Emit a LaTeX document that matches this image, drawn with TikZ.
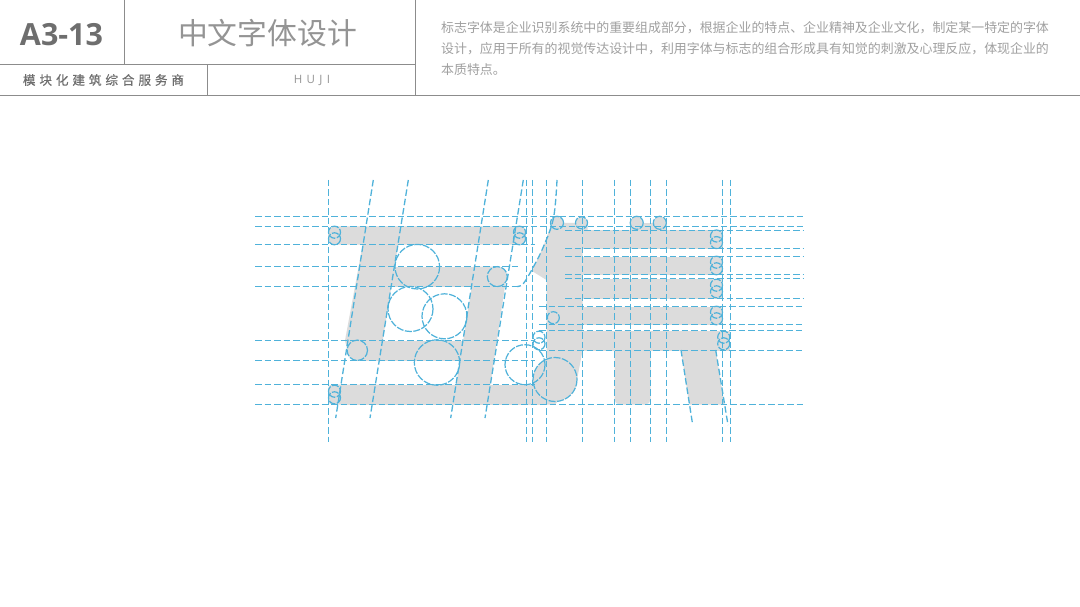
\documentclass[tikz,border=0pt]{standalone}
\usepackage{fontspec}
\setmainfont{Open Sans}
\newfontfamily\cjk{Noto Sans CJK SC}
\newfontfamily\cjkwide[LetterSpace=31,FakeBold=0.4]{Noto Sans CJK SC}
\newfontfamily\latwide[LetterSpace=38]{Open Sans}
\newcommand{\fwc}{\symbol{"FF0C}}
\definecolor{glyphgray}{HTML}{DCDCDC}
\definecolor{guide}{HTML}{4FB2DA}
\definecolor{rulegray}{HTML}{8C8C8C}
\definecolor{textdark}{HTML}{6E6E6E}
\definecolor{textlight}{HTML}{949494}
\definecolor{textpale}{HTML}{A0A0A0}
\tikzset{
  glyph/.style={fill=glyphgray,draw=none},
  guideline/.style={draw=guide,line width=1.3pt,dash pattern=on 6.5pt off 3pt},
  guidearc/.style={draw=guide,line width=1.2pt,dash pattern=on 7pt off 1.5pt},
  headrule/.style={draw=rulegray,line width=1.2pt}
}
\newcommand{\stadV}[2]{% vertical pair of small circles centred at (#1,#2)
  \draw[guidearc] (#1,#2-3.3) circle[radius=6];
  \draw[guidearc] (#1,#2+3.3) circle[radius=6];
}
\begin{document}
\begin{tikzpicture}[x=1pt,y=-1pt]
\useasboundingbox (0,0) rectangle (1080,607);
\fill[white] (0,0) rectangle (1080,607);
% header rules
\draw[headrule] (0,95.5) -- (1080,95.5);
\draw[headrule] (0,64.5) -- (415.5,64.5);
\draw[headrule] (124.5,0) -- (124.5,64.5);
\draw[headrule] (207.5,64.5) -- (207.5,95.5);
\draw[headrule] (415.5,0) -- (415.5,95.5);
% header texts
\node[text=textdark,font=\bfseries\fontsize{30.5}{32}\selectfont,inner sep=0] (code) at (61.5,34.5) {A3-13};
\node[text=textlight,font=\cjk\fontsize{29.8}{32}\selectfont,inner sep=0] (title) at (267.5,33) {中文字体设计};
\node[text=textdark,font=\cjkwide\fontsize{12.6}{14}\selectfont,inner sep=0] (firm) at (103.5,80) {模块化建筑综合服务商};
\node[text=textlight,font=\latwide\fontsize{11.5}{14}\selectfont,inner sep=0] (brand) at (312,80) {HUJI};
\node[anchor=west,text=textpale,font=\cjk\fontsize{12.93}{14}\selectfont,inner sep=0] (body1) at (441,27.5) {标志字体是企业识别系统中的重要组成部分\fwc 根据企业的特点、企业精神及企业文化\fwc 制定某一特定的字体};
\node[anchor=west,text=textpale,font=\cjk\fontsize{12.93}{14}\selectfont,inner sep=0] (body2) at (441,48.5) {设计\fwc 应用于所有的视觉传达设计中\fwc 利用字体与标志的组合形成具有知觉的刺激及心理反应\fwc 体现企业的};
\node[anchor=west,text=textpale,font=\cjk\fontsize{12.93}{14}\selectfont,inner sep=0] (body3) at (441,69.5) {本质特点。};
% left glyph
\fill[glyph,rounded corners=5pt] (328,226.5) rectangle (526,244.5);
\fill[glyph] (366,227) -- (401,227) -- (379.5,360.5) -- (357,360.5) -- (347,349) -- (345,340.5) -- cycle;
\fill[glyph] (357.3,350.3) circle[radius=10.2];
\fill[glyph] (357,340.5) rectangle (470,360.5);
\fill[glyph] (392,266.5) rectangle (497,286.5);
\fill[glyph] (497.3,276.6) circle[radius=10];
\fill[glyph] (475,266.5) -- (497,266.5) -- (506.5,276) -- (487.4,404.5) -- (453,404.5) -- cycle;
\fill[glyph,rounded corners=4pt] (328,384.5) rectangle (400,404.5);
\fill[glyph] (345,384.5) rectangle (547,404.5);
% right glyph
\fill[glyph] (555,379.5) circle[radius=22];
\fill[glyph] (557,222.8) circle[radius=6.5];
\fill[glyph] (581.5,222.8) circle[radius=6];
\fill[glyph] (636.7,222.8) circle[radius=6.5];
\fill[glyph] (659.8,222.8) circle[radius=6.5];
\fill[glyph] (630.5,222.8) rectangle (666.5,232);
\fill[glyph] (552,222.8) -- (587.5,222.8) -- (587.5,232) -- (582.5,232) -- (582.5,350.5) -- (577,380) -- (555,404.5) -- (546.5,404.5) -- (546.5,280) -- (532,271) -- (543.3,246.7) -- cycle;
\fill[glyph] (560,230.5) rectangle (722.5,248.5);
\fill[glyph] (560,256.5) rectangle (722.5,274.5);
\fill[glyph] (560,278.5) rectangle (722.5,298.5);
\fill[glyph] (560,306.5) rectangle (722.5,324.5);
\fill[glyph] (546.5,330.5) rectangle (730,350.5);
\fill[glyph,rounded corners=5pt] (614.5,340) rectangle (650.5,404.5);
\fill[glyph] (681,350) -- (715.7,350) -- (724.3,404.5) -- (689.3,404.5) -- cycle;
% horizontal guides
\foreach \yy in {216.5,226.5,404.5}{\draw[guideline] (255,\yy) -- (803,\yy);}
\foreach \yy in {244.5}{\draw[guideline] (255,\yy) -- (535,\yy);}
\foreach \yy in {266.5,286.5}{\draw[guideline] (255,\yy) -- (520,\yy);}
\foreach \yy in {340.5,360.5,384.5}{\draw[guideline] (255,\yy) -- (535,\yy);}
\foreach \yy in {230.5,248.5,256.5,274.5,278.5,298.5}{\draw[guideline] (565,\yy) -- (803,\yy);}
\foreach \yy in {306.5,324.5,330.5,350.5}{\draw[guideline] (539,\yy) -- (803,\yy);}
% vertical guides
\foreach \xx in {328.5,526.5,532.5,546.5,582.5,614.5,630.5,650.5,666.5,722.5,730.5}{\draw[guideline] (\xx,180) -- (\xx,442);}
% slanted guides
\draw[guideline] (373.3,180) -- (335.7,418);
\draw[guideline] (408.3,180) -- (370,418);
\draw[guideline] (488.3,180) -- (450.7,418);
\draw[guideline] (523.3,180) -- (485,418);
\draw[guideline] (681,350) -- (692.7,425);
\draw[guideline] (715.7,350) -- (728,425);
\draw[guideline] plot[smooth,tension=0.6] coordinates {(557,180) (553.5,218) (543.3,247) (531.7,270) (523,284) (517,286.5)};
% large construction circles
\draw[guidearc] (417.3,266.7) circle[radius=22.3];
\draw[guidearc] (410.5,309) circle[radius=22.5];
\draw[guidearc] (444.5,316.3) circle[radius=22.5];
\draw[guidearc] (437,362.5) circle[radius=22.7];
\draw[guidearc] (525,364.7) circle[radius=20];
\draw[guidearc] (555,379.5) circle[radius=22];
% medium circles
\draw[guidearc] (357.3,350.3) circle[radius=10.2];
\draw[guidearc] (497.3,276.6) circle[radius=10];
\draw[guidearc] (553.3,317.7) circle[radius=6];
% tops of right glyph
\draw[guidearc] (557,222.8) circle[radius=6.5];
\draw[guidearc] (581.5,222.8) circle[radius=6];
\draw[guidearc] (636.7,222.8) circle[radius=6.5];
\draw[guidearc] (659.8,222.8) circle[radius=6.5];
% bar-end pairs
\stadV{334.5}{235.5}
\stadV{519.5}{235.5}
\stadV{334.5}{394.5}
\stadV{716.5}{239.3}
\stadV{716.5}{265.5}
\stadV{716.5}{288.5}
\stadV{716.5}{315.5}
\stadV{723.7}{340.5}
\stadV{539}{340.5}
\end{tikzpicture}
\end{document}
